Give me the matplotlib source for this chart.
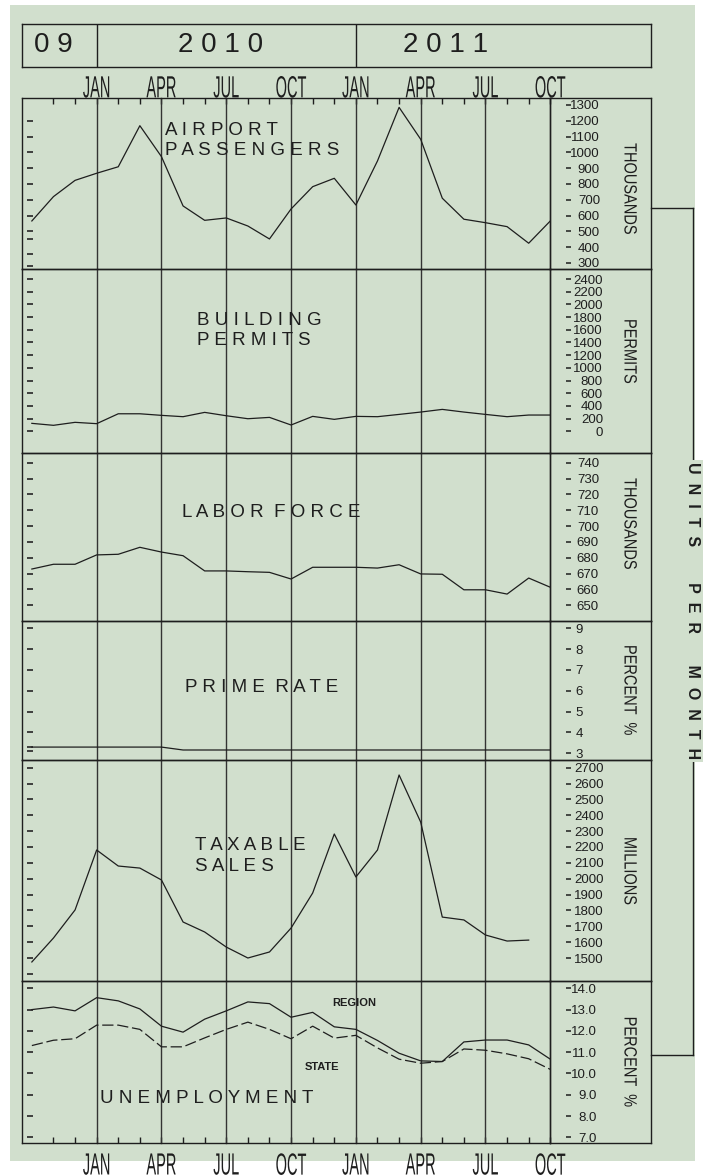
import numpy as np
import matplotlib.pyplot as plt
from matplotlib.patches import Rectangle
from matplotlib.patheffects import AbstractPathEffect
from matplotlib.transforms import Affine2D

plt.rcParams['font.family'] = ['Liberation Sans', 'DejaVu Sans']

W, H = 707, 1176
GREEN = '#d1dfcd'
INK = '#1e1e1e'
GRID = '#333333'

# month index: 0 = Oct 2009 ... 24 = Oct 2011
months = np.arange(25)
minor_months = [m for m in range(1, 25) if m % 3]
quarter_months = [3, 6, 9, 12, 15, 18, 21, 24]
quarter_names = ['JAN', 'APR', 'JUL', 'OCT', 'JAN', 'APR', 'JUL', 'OCT']
year_starts = [3, 15]

airport = [566, 720, 823, 868, 909, 1169, 973, 661, 570, 585, 534, 452, 642,
           783, 836, 667, 946, 1285, 1083, 710, 577, 555, 530, 425, 566]
permits = [125, 94, 141, 120, 276, 276, 251, 230, 298, 245, 198, 219, 99,
           235, 188, 235, 230, 266, 303, 345, 303, 266, 230, 256, 256]
labor = [672.9, 675.9, 675.9, 681.8, 682.2, 686.6, 683.6, 681.3, 671.7, 671.7,
         671.2, 670.8, 666.6, 674.0, 674.0, 674.0, 673.5, 675.6, 669.8, 669.6,
         659.8, 659.8, 657.1, 667.2, 661.4]
prime = [3.3, 3.3, 3.3, 3.3, 3.3, 3.3, 3.3, 3.16, 3.16, 3.16, 3.16, 3.16, 3.16,
         3.16, 3.16, 3.16, 3.16, 3.16, 3.16, 3.16, 3.16, 3.16, 3.16, 3.16, 3.16]
taxable = [1475, 1626, 1803, 2181, 2080, 2067, 1992, 1727, 1664, 1569, 1500, 1538,
           1689, 1910, 2282, 2011, 2181, 2654, 2357, 1758, 1740, 1645, 1607, 1613]
region = [13.0, 13.12, 12.94, 13.56, 13.41, 13.03, 12.22, 11.94, 12.55, 12.94,
          13.36, 13.28, 12.64, 12.87, 12.19, 12.07, 11.55, 10.95, 10.59, 10.56,
          11.48, 11.57, 11.57, 11.34, 10.67]
state = [11.31, 11.56, 11.63, 12.27, 12.27, 12.07, 11.25, 11.25, 11.67, 12.07,
         12.41, 12.07, 11.63, 12.22, 11.66, 11.79, 11.2, 10.67, 10.48, 10.56,
         11.15, 11.09, 10.92, 10.69, 10.19]

airport_ticks = list(range(300, 1301, 100))
permit_ticks = list(range(0, 2401, 200))
labor_ticks = list(range(650, 741, 10))
prime_ticks = list(range(3, 10))
taxable_ticks = list(range(1500, 2701, 100))
unemp_ticks = [7.0, 8.0, 9.0, 10.0, 11.0, 12.0, 13.0, 14.0]


def fig_x(px):
    return px / W


def fig_y(py):
    return 1 - py / H


class Stretch(AbstractPathEffect):
    """Rescale glyphs about the string's centre; `anchor` is the edge kept fixed."""

    def __init__(self, sx=1.0, sy=1.0, anchor='center'):
        super().__init__()
        self.sx, self.sy, self.anchor = sx, sy, anchor

    def draw_path(self, renderer, gc, tpath, affine, rgbFace=None):
        ext = tpath.get_extents()
        cx = 0.5 * (ext.x0 + ext.x1)
        cy = {'baseline': 0.0, 'top': ext.y1, 'center': 0.5 * (ext.y0 + ext.y1)}[self.anchor]
        t = Affine2D().translate(-cx, -cy).scale(self.sx, self.sy).translate(cx, cy)
        renderer.draw_path(gc, tpath, t + affine, rgbFace)


fig = plt.figure(figsize=(W / 100, H / 100), dpi=100)
fig.add_artist(Rectangle((fig_x(10), fig_y(1161)), 685 / W, 1156 / H,
                         transform=fig.transFigure, facecolor=GREEN,
                         edgecolor='none', zorder=-5))

PLOT_L, PLOT_R, FRAME_R = 21.7, 550.3, 651
XLIM = (-0.47, 24)
PX_PER_MONTH = (PLOT_R - PLOT_L) / (XLIM[1] - XLIM[0])
edges = [98.3, 269.3, 453.3, 620.7, 760, 980.7, 1143.3]

solid = dict(color=INK, lw=0.9)
dashed = dict(color=INK, lw=0.9, dashes=(9, 3))

panels = [
    dict(series=[(months, airport, solid)], ylim=(260, 1342.4),
         ticks=airport_ticks, fmt='{:.0f}', label_right=600,
         marks=[1200, 1100, 1000, 900, 800, 700, 600, 500, 450, 360, 280],
         title='A I R P O R T\nP A S S E N G E R S', title_at=(165, 140.6),
         unit='THOUSANDS', unit_y=189),
    dict(series=[(months, permits, solid)], ylim=(-347, 2553),
         ticks=permit_ticks, fmt='{:.0f}', label_right=603,
         marks=permit_ticks,
         title='B U I L D I N G\nP E R M I T S', title_at=(197, 330.5),
         unit='PERMITS', unit_y=351.3),
    dict(series=[(months, labor, solid)], ylim=(640.3, 745.9),
         ticks=labor_ticks, fmt='{:.0f}', label_right=599,
         marks=labor_ticks,
         title='L A B O R  F O R C E', title_at=(182, 512.3),
         unit='THOUSANDS', unit_y=524),
    dict(series=[(months, prime, solid)], ylim=(2.68, 9.365),
         ticks=prime_ticks, fmt='{:.0f}', label_right=583,
         marks=[9, 8, 7, 6, 5, 4, 3.3, 3.1],
         title='P R I M E  R A T E', title_at=(185, 687),
         unit='PERCENT  %', unit_y=690),
    dict(series=[(months[:len(taxable)], taxable, solid)], ylim=(1356.9, 2748.5),
         ticks=taxable_ticks, fmt='{:.0f}', label_right=604,
         marks=list(range(1400, 2701, 100)),
         title='T A X A B L E\nS A L E S', title_at=(195, 856),
         unit='MILLIONS', unit_y=871),
    dict(series=[(months, region, solid), (months, state, dashed)],
         ylim=(6.718, 14.357), ticks=unemp_ticks, fmt='{:.1f}', label_right=597,
         marks=unemp_ticks,
         title='U N E M P L O Y M E N T', title_at=(100, 1098.3),
         unit='PERCENT  %', unit_y=1061.7),
]

axes = []
for i, p in enumerate(panels):
    top, bot = edges[i], edges[i + 1]
    ax = fig.add_axes([fig_x(PLOT_L), fig_y(bot), (PLOT_R - PLOT_L) / W, (bot - top) / H])
    ax.set_facecolor('none')
    ax.set_xlim(*XLIM)
    ax.set_ylim(*p['ylim'])
    for x, y, style in p['series']:
        ax.plot(x, y, **style, zorder=3)
    for m in quarter_months:
        ax.axvline(m, color=GRID, lw=1.0, zorder=2, clip_on=False)
    ax.hlines(p['marks'], 0.010, 0.0214, transform=ax.get_yaxis_transform(),
              colors=GRID, lw=1.3)

    for s in ax.spines.values():
        s.set_linewidth(1.0)
        s.set_color(INK)
    ax.spines['right'].set_position(('outward', 11.3))
    ax.spines['right'].set_visible(False)

    # value scale sits in the label column to the right
    ax.yaxis.tick_right()
    ax.set_yticks(p['ticks'], labels=[p['fmt'].format(v) for v in p['ticks']])
    ax.tick_params(axis='y', direction='out', length=3.6, width=1.1, color=INK,
                   labelsize=9.5, labelcolor=INK, pad=(p['label_right'] - 571) / 1.389)
    for lab in ax.get_yticklabels():
        lab.set_ha('right')

    ax.tick_params(axis='x', which='both', bottom=False, top=False,
                   labelbottom=False, labeltop=False)

    tx, ty = p['title_at']
    fig.text(fig_x(tx), fig_y(ty), p['title'], ha='left', va='center',
             fontsize=13.5, color=INK, linespacing=1.27)

    side = fig.add_axes([fig_x(PLOT_R), fig_y(bot), (FRAME_R - PLOT_R) / W, (bot - top) / H])
    side.set_facecolor('none')
    side.set_xticks([])
    side.set_yticks([])
    for s in side.spines.values():
        s.set_linewidth(1.0)
        s.set_color(INK)
    fig.text(fig_x(629), fig_y(p['unit_y']), p['unit'], rotation=270,
             ha='center', va='center', fontsize=12.8, color=INK,
             path_effects=[Stretch(sx=0.82)])
    axes.append(ax)

# month scale on the top and bottom edges: tall, narrow lettering
for ax, where, pad, anchor in [(axes[0], 'top', -1.5, 'baseline'),
                               (axes[-1], 'bottom', 6.6, 'top')]:
    ax.set_xticks(quarter_months, labels=quarter_names)
    ax.set_xticks(minor_months, minor=True)
    ax.tick_params(axis='x', which='both', direction='in', length=4.3, width=1.0,
                   color=INK, top=(where == 'top'), bottom=(where == 'bottom'),
                   labeltop=(where == 'top'), labelbottom=(where == 'bottom'),
                   labelsize=10.5, labelcolor=INK, pad=pad)
    for lab in ax.get_xticklabels():
        lab.set_path_effects([Stretch(sy=2.1, anchor=anchor)])

unemp = axes[-1]
unemp.text(14.94, 13.31, 'REGION', ha='center', va='center', fontsize=8,
           fontweight='bold', color=INK)
unemp.text(13.41, 10.3, 'STATE', ha='center', va='center', fontsize=8,
           fontweight='bold', color=INK)

# year header
head = fig.add_axes([fig_x(PLOT_L), fig_y(66.7), (FRAME_R - PLOT_L) / W, (66.7 - 24) / H])
head.set_facecolor('none')
head.set_xlim(XLIM[0], XLIM[0] + (FRAME_R - PLOT_L) / PX_PER_MONTH)
head.set_xticks([])
head.set_yticks([])
for s in head.spines.values():
    s.set_linewidth(1.0)
    s.set_color(INK)
for m in year_starts:
    head.axvline(m, color=INK, lw=1.0)
for xm, txt in [(0.98, '0 9'), (8.73, '2 0 1 0'), (19.13, '2 0 1 1')]:
    head.text(xm, 0.5, txt, transform=head.get_xaxis_transform(),
              ha='center', va='center', fontsize=20, color=INK)

# bracket tying the label column together
brk = fig.add_axes([fig_x(FRAME_R), fig_y(1055), (693 - FRAME_R) / W, (1055 - 208) / H])
brk.set_facecolor('none')
brk.set_xticks([])
brk.set_yticks([])
brk.spines['left'].set_visible(False)
for s in ('top', 'right', 'bottom'):
    brk.spines[s].set_linewidth(1.0)
    brk.spines[s].set_color(INK)
fig.text(fig_x(693), fig_y(611),
         'U  N  I  T  S' + ' ' * 8 + 'P  E  R' + ' ' * 7 + 'M  O  N  T  H',
         rotation=270, ha='center', va='center', fontsize=11.5,
         fontweight='bold', color=INK,
         bbox=dict(facecolor=GREEN, edgecolor='none', pad=2))

fig.savefig('out.png', dpi=100)
